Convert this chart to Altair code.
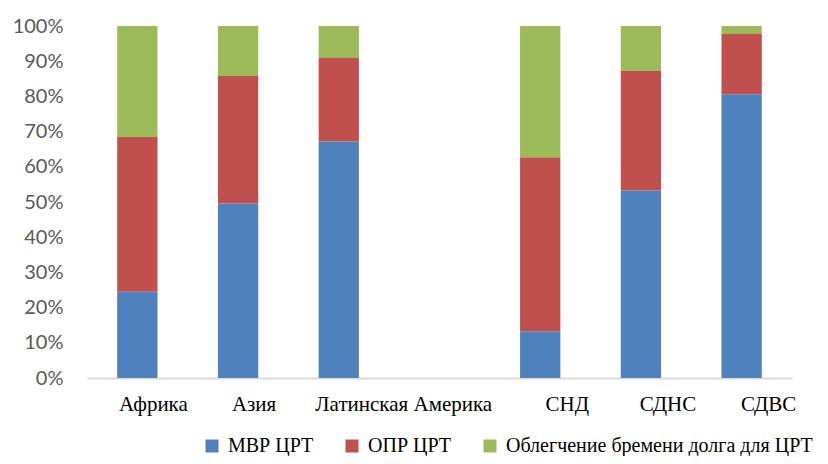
import altair as alt
import pandas as pd

categories = ["Африка", "Азия", "Латинская Америка", " ", "СНД", "СДНС", "СДВС"]
regions = ["Африка", "Азия", "Латинская Америка", "СНД", "СДНС", "СДВС"]
series = ["МВР ЦРТ", "ОПР ЦРТ", "Облегчение бремени долга для ЦРТ"]
mvr = [24.5, 49.6, 67.2, 13.3, 53.3, 80.6]
opr = [44.0, 36.2, 23.7, 49.4, 33.9, 17.1]
debt = [31.5, 14.2, 9.1, 37.3, 12.8, 2.3]
colors = ["#4F81BD", "#C0504D", "#9BBB59"]

rows = []
for i, r in enumerate(regions):
    for k, (s, vals) in enumerate(zip(series, [mvr, opr, debt])):
        rows.append({"region": r, "series": s, "value": vals[i], "order": k})
df = pd.DataFrame(rows)

label_offset = {
    "condition": [
        {"test": "datum.value == 'Латинская Америка'", "value": 65},
        {"test": "datum.value == 'Африка' || datum.value == 'Азия'", "value": 16},
    ],
    "value": 27,
}

chart = alt.Chart(df).mark_bar().encode(
    x=alt.X("region:N", sort=categories,
            scale=alt.Scale(domain=categories, paddingInner=0.6, paddingOuter=0.3),
            axis=alt.Axis(title=None, labelAngle=0, ticks=False, domainColor="#D9D9D9",
                          domainWidth=2, labelFont="Liberation Serif", labelFontSize=21,
                          labelColor="#000000", labelPadding=15,
                          labelOffset=label_offset)),
    y=alt.Y("value:Q", stack="normalize",
            scale=alt.Scale(domain=[0, 1]),
            axis=alt.Axis(title=None, format="%", values=[i / 10 for i in range(11)],
                          grid=False, domain=False, ticks=False, labelFont="Lato",
                          labelFontSize=20, labelColor="#595959", labelPadding=24)),
    color=alt.Color("series:N", sort=series,
                    scale=alt.Scale(domain=series, range=colors),
                    legend=alt.Legend(title=None, orient="none", direction="horizontal",
                                      legendX=115, legendY=410, symbolType="square",
                                      symbolSize=169, symbolStrokeWidth=0,
                                      labelFont="Liberation Serif", labelFontSize=20,
                                      labelColor="#000000", labelOffset=6,
                                      columnPadding=28, padding=0, labelLimit=400)),
    order=alt.Order("order:Q"),
).properties(
    width=705, height=352,
    autosize=alt.AutoSizeParams(type="none"),
    padding={"left": 79, "top": 18, "right": 28, "bottom": 78},
).configure_view(stroke=None)

chart.save("out.html", embed_options={"renderer": "svg", "actions": False})
